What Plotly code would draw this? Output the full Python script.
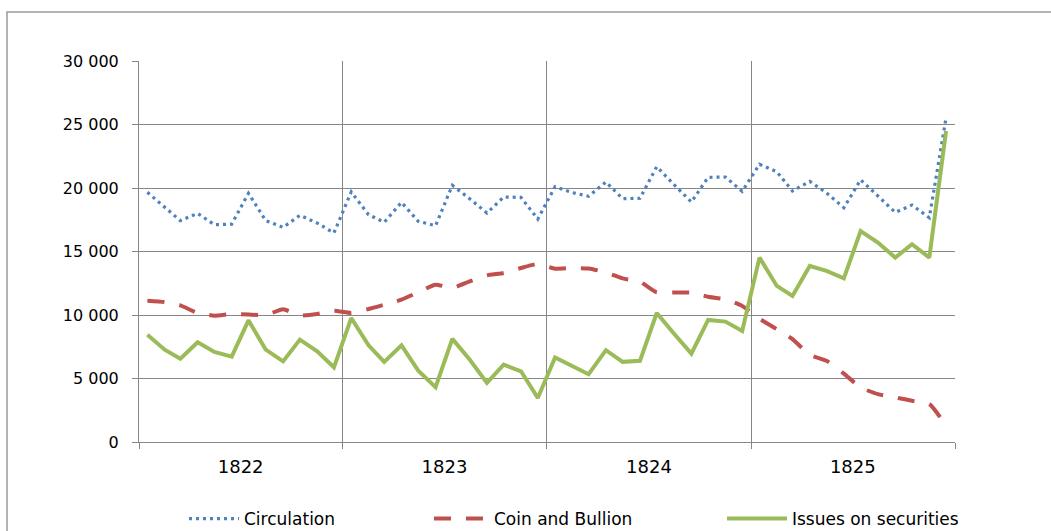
import plotly.graph_objs as go
import pandas as pd

years = ["1822", "1823", "1824", "1825"]

circulation = [19660, 18480, 17430, 18000, 17110, 17160, 19580, 17430, 16900, 17850, 17240, 16460,
               19690, 17900, 17300, 18870, 17380, 17030, 20210, 19160, 18030, 19290, 19260, 17560,
               20100, 19630, 19350, 20470, 19160, 19190, 21680, 20260, 18900, 20840, 20860, 19740,
               21870, 21280, 19760, 20520, 19610, 18450, 20650, 19370, 18080, 18660, 17660, 25520]

coin_bullion = [11130, 11020, 10760, 10160, 9950, 10080, 10030, 10000, 10450, 9970, 10080, 10340,
                10160, 10470, 10810, 11210, 11790, 12390, 12130, 12650, 13120, 13310, 13700, 14020,
                13650, 13700, 13660, 13350, 12880, 12620, 11780, 11780, 11750, 11440, 11230, 10710,
                9700, 8880, 8100, 6860, 6390, 5390, 4290, 3770, 3510, 3250, 2990, 1280]

issues = [8450, 7270, 6560, 7850, 7090, 6720, 9580, 7270, 6350, 8060, 7140, 5880,
          9760, 7610, 6300, 7610, 5620, 4310, 8120, 6490, 4650, 6090, 5570, 3470,
          6650, 5970, 5340, 7230, 6310, 6390, 10160, 8530, 6960, 9610, 9480, 8740,
          14520, 12290, 11500, 13860, 13470, 12890, 16610, 15700, 14520, 15570, 14520, 24480]

y_ticks = [0, 5000, 10000, 15000, 20000, 25000, 30000]
y_labels = ["0", "5 000", "10 000", "15 000", "20 000", "25 000", "30 000"]

# monthly points, placed mid-month
months = pd.date_range("1822-01-01", periods=48, freq="MS") + pd.Timedelta(days=15)
year_mid = [pd.Timestamp(y + "-07-02") for y in years]

font = "DejaVu Sans"
W, H = 1051, 531
L, R, T, B = 139, 96, 61, 89
pw, ph = W - L - R, H - T - B

def px(x):  # pixel -> paper x
    return (x - L) / pw

def py(y):  # pixel -> paper y
    return (H - B - y) / ph

circ_ = go.Scatter(x=months, y=circulation, mode="lines", name="Circulation", legend="legend",
                   line=dict(color="#4F81BD", width=3.2, dash="3px,4px"))
coin_ = go.Scatter(x=months, y=coin_bullion, mode="lines", name="Coin and Bullion", legend="legend2",
                   line=dict(color="#C0504D", width=4, dash="17px,15px", shape="spline", smoothing=0.5))
iss_ = go.Scatter(x=months, y=issues, mode="lines", name="Issues on securities", legend="legend3",
                  line=dict(color="#9BBB59", width=4))

fig = go.Figure(data=[circ_, coin_, iss_])

# legends sit in container coords so they don't push the margins
leg = dict(xref="container", yref="container", y=1 - 519 / H, yanchor="middle", xanchor="left",
           bgcolor="rgba(0,0,0,0)", font=dict(size=17, family=font))
fig.update_layout(
    width=W, height=H,
    margin=dict(l=L, r=R, t=T, b=B, autoexpand=False),
    paper_bgcolor="white", plot_bgcolor="white",
    font=dict(family=font, size=16, color="black"),
    showlegend=True,
    legend=dict(leg, x=184 / W, itemwidth=50),
    legend2=dict(leg, x=429 / W, itemwidth=55),
    legend3=dict(leg, x=722 / W, itemwidth=60),
    shapes=[dict(type="rect", xref="paper", yref="paper",
                 x0=px(7), x1=px(1070), y0=py(560), y1=py(12),
                 line=dict(color="#9A9A9A", width=1.5), layer="below")],
)

fig.update_xaxes(
    type="date",
    range=["1822-01-01", "1826-01-01"],
    tickvals=year_mid, ticktext=years,
    ticks="", showgrid=False,
    showline=True, linecolor="#868686", linewidth=1,
    tickfont=dict(size=18),
    minor=dict(tick0="1822-01-01", dtick="M12", showgrid=True, gridcolor="#868686",
               gridwidth=1, ticks="outside", ticklen=6, tickcolor="#868686"),
    ticklabelstandoff=8,
)
fig.update_yaxes(
    range=[0, 30000],
    tickvals=y_ticks, ticktext=y_labels,
    showgrid=True, gridcolor="#868686", gridwidth=1,
    showline=True, linecolor="#868686", linewidth=1,
    ticks="outside", ticklen=6, tickcolor="#868686",
    tickfont=dict(size=16),
    ticklabelstandoff=10,
    zeroline=False,
)

fig.write_html("out.html", config={"displayModeBar": False},
               post_script="document.body.style.margin='0';")
